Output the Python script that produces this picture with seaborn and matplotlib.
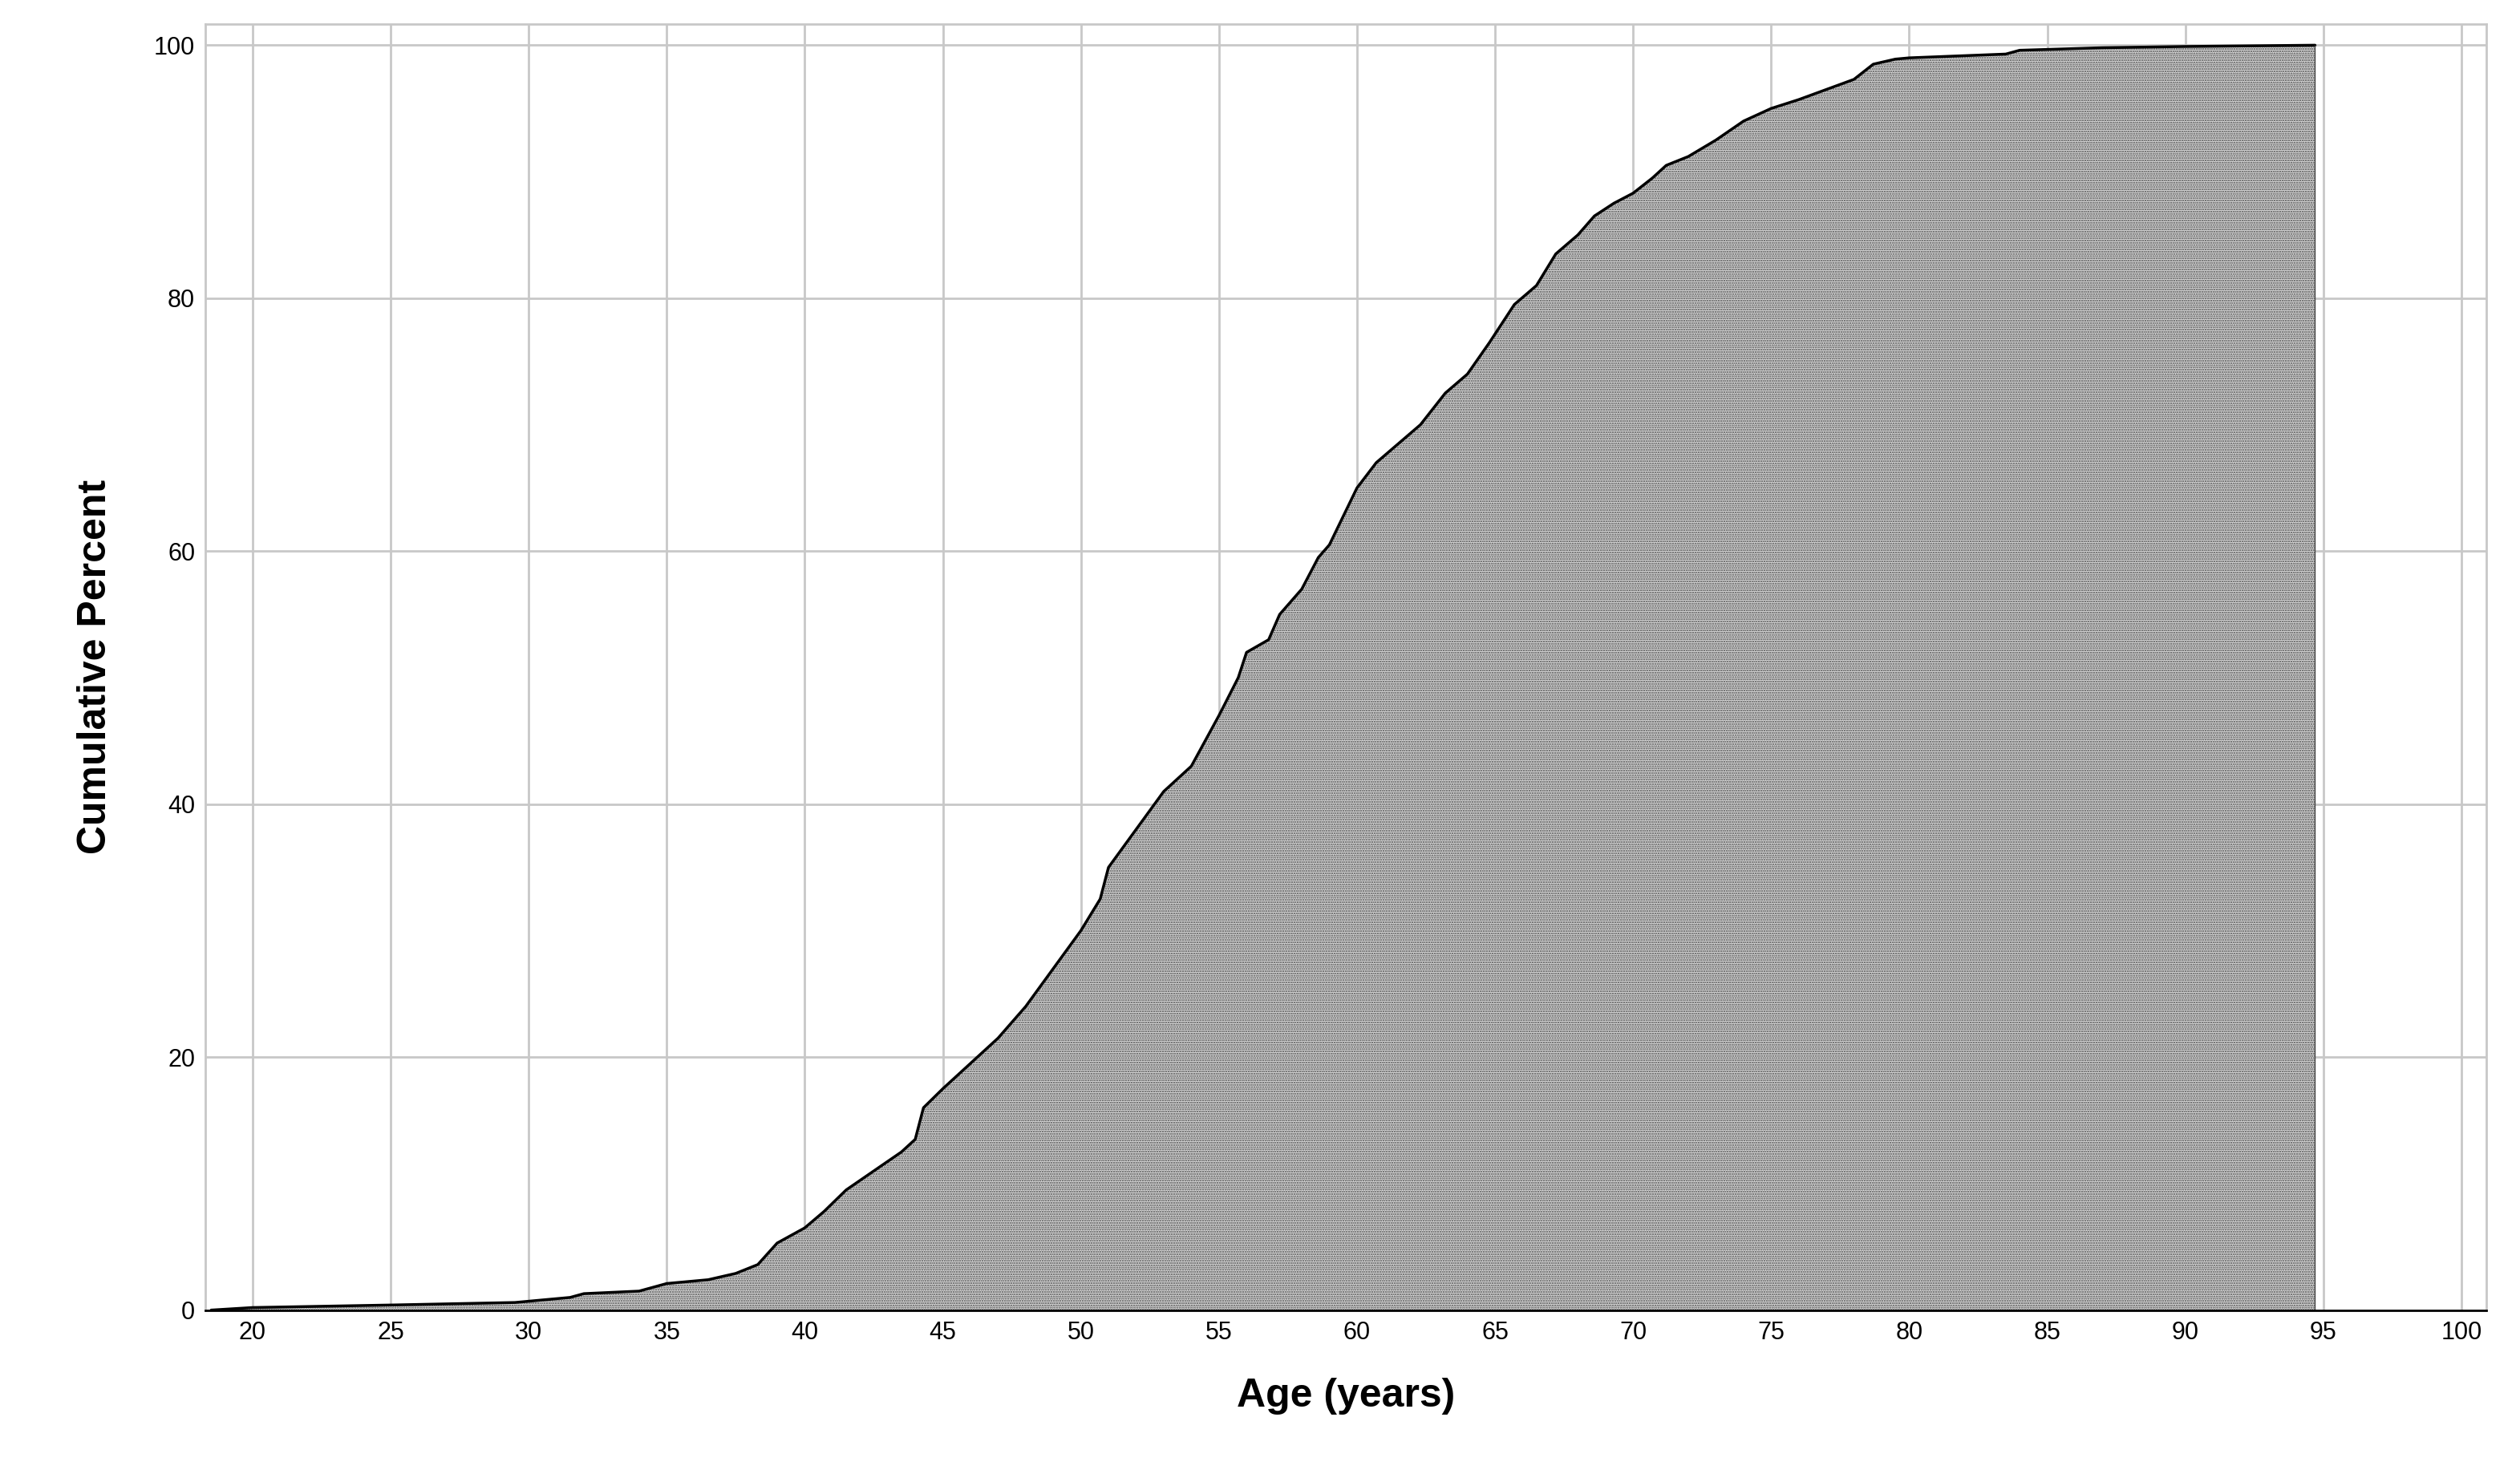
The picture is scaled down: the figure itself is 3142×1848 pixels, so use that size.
import matplotlib
matplotlib.use("Agg")
import matplotlib.pyplot as plt
import seaborn as sns
import pandas as pd

sns.set_style("white")
plt.rcParams['font.family'] = ['Liberation Sans', 'DejaVu Sans']
plt.rcParams['hatch.color'] = '#333333'
plt.rcParams['hatch.linewidth'] = 1.2

# cumulative percent
age = [18.5, 20, 25, 29.5, 31.5, 32, 34, 35, 36.5, 37.5, 38.3, 39, 40, 40.7, 41.5,
       42.5, 43.5, 44, 44.3, 45, 46, 47, 48, 49, 50, 50.7, 51, 52, 52.5, 53, 54,
       54.5, 55, 55.7, 56, 56.8, 57.2, 58, 58.6, 59, 60, 60.7, 61.5, 62.3, 63.2,
       64, 64.8, 65.7, 66.5, 67.2, 68, 68.6, 69.3, 70, 70.7, 71.2, 72, 73, 74,
       75, 76, 77, 78, 78.7, 79.5, 80, 83.5, 84, 87, 90, 94.7]
cum_pct = [0, 0.2, 0.4, 0.6, 1.0, 1.3, 1.5, 2.1, 2.4, 2.9, 3.6, 5.3, 6.5, 7.8, 9.5,
           11.0, 12.5, 13.5, 16.0, 17.5, 19.5, 21.5, 24.0, 27.0, 30.0, 32.5, 35.0,
           38.0, 39.5, 41.0, 43.0, 45.0, 47.0, 50.0, 52.0, 53.0, 55.0, 57.0, 59.5,
           60.5, 65.0, 67.0, 68.5, 70.0, 72.5, 74.0, 76.5, 79.5, 81.0, 83.5, 85.0,
           86.5, 87.5, 88.3, 89.5, 90.5, 91.2, 92.5, 94.0, 95.0, 95.7, 96.5, 97.3,
           98.5, 98.9, 99.0, 99.3, 99.6, 99.8, 99.9, 100.0]
xticks = list(range(20, 101, 5))
yticks = [0, 20, 40, 60, 80, 100]

df = pd.DataFrame({"age": age, "cum": cum_pct})

fig = plt.figure(figsize=(31.42, 18.48), dpi=100)
ax = fig.add_axes([0.0816, 0.116, 0.905, 0.868])
ax.fill_between(df["age"], 0, df["cum"], facecolor='#e6e6e6', hatch='......',
                edgecolor='#444444', linewidth=0)
sns.lineplot(data=df, x="age", y="cum", color='black', linewidth=2.5, ax=ax)
ax.vlines(age[-1], 0, cum_pct[-1], color='#444444', linewidth=1)

ax.set_xlim(18.3, 100.9)
ax.set_ylim(0, 101.7)
ax.set_xticks(xticks)
ax.set_yticks(yticks)
ax.grid(True, color='#c8c8c8', linewidth=2)
ax.set_axisbelow(True)
ax.tick_params(labelsize=22, length=6, width=1.5, color='black', labelcolor='black')
for s in ['top', 'right', 'left']:
    ax.spines[s].set_color('#c8c8c8')
    ax.spines[s].set_linewidth(2)
ax.spines['bottom'].set_color('black')
ax.spines['bottom'].set_linewidth(2)
ax.set_xlabel("Age (years)", fontsize=36, fontweight='bold', labelpad=30, color='black')
ax.set_ylabel("Cumulative Percent", fontsize=36, fontweight='bold', labelpad=36, color='black')

fig.savefig("out.png", dpi=100)
